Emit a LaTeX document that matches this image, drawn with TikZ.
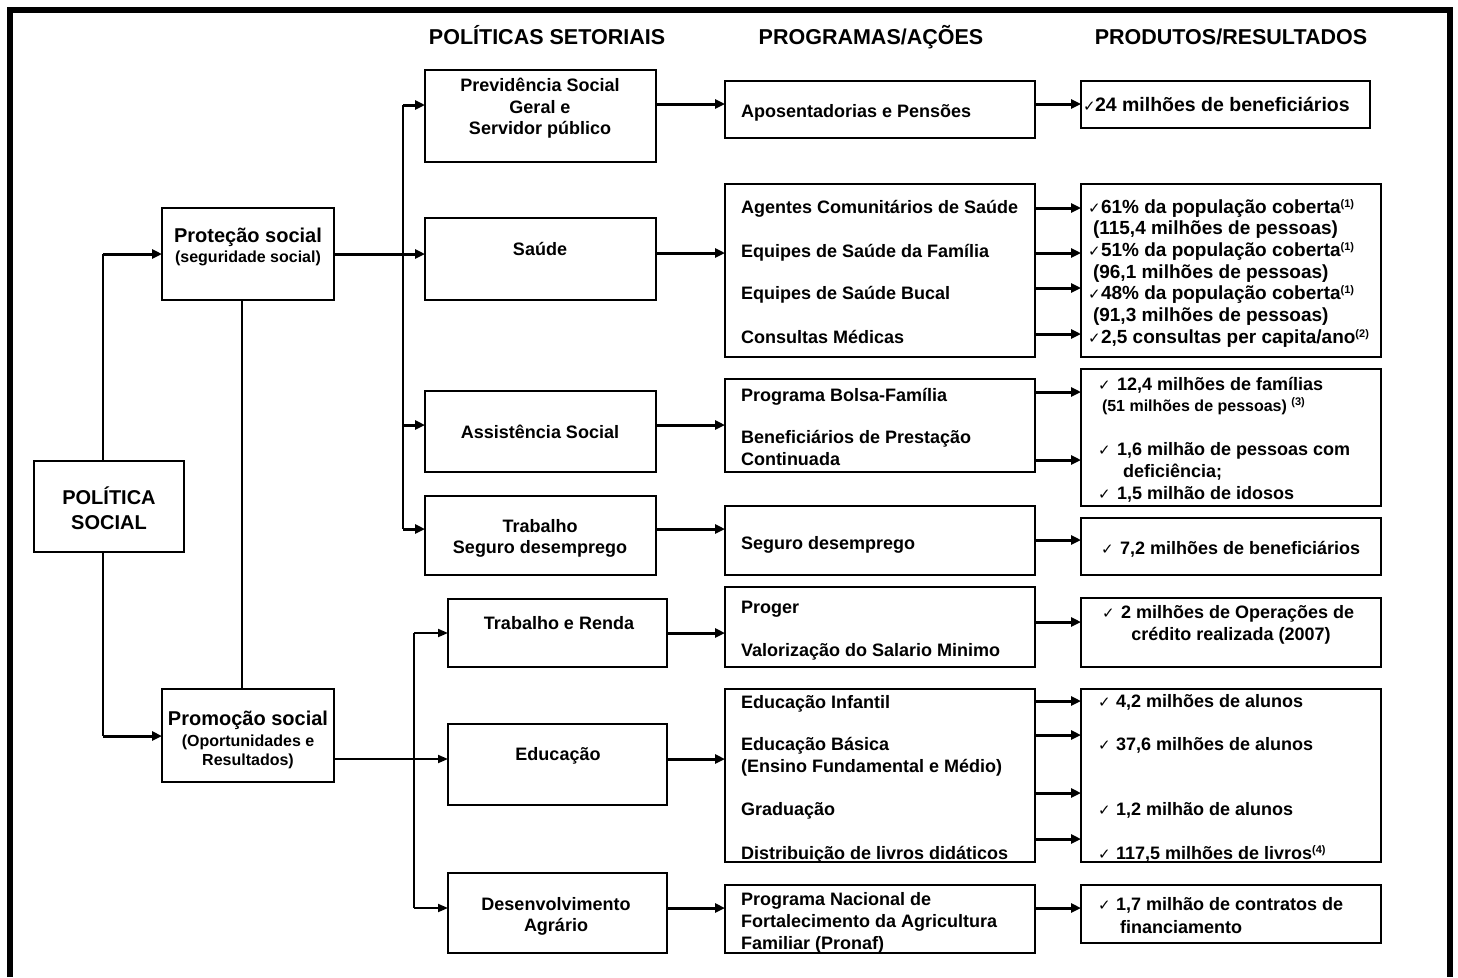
\documentclass[tikz,border=0pt]{standalone}
\usepackage{fontspec}
\setmainfont{Liberation Sans}
\newfontfamily\chkfont{DejaVu Sans}
\usetikzlibrary{arrows.meta,calc}
\newcommand\ck[1][12]{\makebox[#1pt][l]{\chkfont\mdseries\fontsize{15}{15}\selectfont ✓}}
\newcommand\supr[1]{\raisebox{6pt}{\fontsize{11}{11}\selectfont #1}}
\newcommand\bx[5]{\node[box, minimum width={#4-#2}, minimum height={#5-#3}] (#1) at ({(#2+#4)/2},{(#3+#5)/2}) {};}
\newcommand\harr[4][arr]{\coordinate (tmp) at (0,#4); \draw[#1] (#2.east |- tmp) -- (#3.west |- tmp);}
\tikzset{
  box/.style={draw, line width=1.8pt, inner sep=0pt, outer sep=0pt},
  arr/.style={line width=3pt, -{Triangle[length=10pt,width=9pt]}},
  arrt/.style={line width=1.8pt, -{Triangle[length=10pt,width=8pt]}},
  thinl/.style={line width=1.8pt},
  frame/.style={line width=6pt},
  base/.style={inner sep=0pt, outer sep=0pt, text=black},
  t18/.style={base, font=\bfseries\fontsize{18}{18}\selectfont, anchor=base west, yshift=-6.5pt},
  c18/.style={t18, anchor=base},
  t19/.style={base, font=\bfseries\fontsize{19}{19}\selectfont, anchor=base west, yshift=-6.8pt},
  t195/.style={base, font=\bfseries\fontsize{19.5}{19.5}\selectfont, anchor=base west, yshift=-7pt},
  t16/.style={base, font=\bfseries\fontsize{16}{16}\selectfont, anchor=base west, yshift=-5.7pt},
  c16/.style={t16, anchor=base},
  c20/.style={base, font=\bfseries\fontsize{20}{20}\selectfont, anchor=base, yshift=-7.2pt},
  hd/.style={base, font=\bfseries\fontsize{21.5}{21.5}\selectfont, anchor=base, yshift=-7.7pt},
}
\begin{document}
\begin{tikzpicture}[x=1pt,y=-1pt]
\useasboundingbox (0,0) rectangle (1458,977);
\draw[frame] (9.5,977) -- (9.5,9.5) -- (1450,9.5) -- (1450,977);

% headers
\node[hd] (h1) at (547,37) {POLÍTICAS SETORIAIS};
\node[hd] (h2) at (871,37) {PROGRAMAS/AÇÕES};
\node[hd] (h3) at (1231,37) {PRODUTOS/RESULTADOS};

% boxes
\bx{pol}{34}{461}{184}{552}
\bx{prot}{162}{208}{334}{300}
\bx{promo}{162}{689}{334}{782}
\bx{prev}{425}{70}{656}{162}
\bx{sau}{425}{218}{656}{300}
\bx{ass}{425}{391}{656}{472}
\bx{trab}{425}{496}{656}{575}
\bx{tr}{448}{599}{667}{667}
\bx{edu}{448}{724}{667}{805}
\bx{dev}{448}{873}{667}{953}
\bx{apo}{725}{81}{1035}{138}
\bx{psau}{725}{184}{1035}{357}
\bx{pass}{725}{379}{1035}{472}
\bx{pseg}{725}{506}{1035}{575}
\bx{ppro}{725}{587}{1035}{667}
\bx{pedu}{725}{689}{1035}{862}
\bx{pnaf}{725}{885}{1035}{953}
\bx{r1}{1081}{81}{1370}{128}
\bx{r2}{1081}{184}{1381}{357}
\bx{r3}{1081}{369}{1381}{506}
\bx{r4}{1081}{518}{1381}{575}
\bx{r5}{1081}{598}{1381}{667}
\bx{r6}{1081}{689}{1381}{862}
\bx{r7}{1081}{885}{1381}{943}

% column 1 connectors
\coordinate (b1t) at (103,254);
\coordinate (b1b) at (103,736);
\coordinate (vx) at (242,0);
\draw[thinl] (pol.north -| b1t) -- (b1t);
\draw[arr] (b1t) -- (b1t -| prot.west);
\draw[thinl] (pol.south -| b1b) -- (b1b);
\draw[arr] (b1b) -- (b1b -| promo.west);
\draw[thinl] (prot.south -| vx) -- (promo.north -| vx);

% bus 2
\coordinate (b2t) at (403,105);
\coordinate (b2a) at (403,425);
\coordinate (b2b) at (403,529);
\draw[thinl] (b2t) -- (b2b);
\draw[arr] (b2t) -- (b2t -| prev.west);
\draw[arr] (prot.east) -- (prot.east -| sau.west);
\draw[arr] (b2a) -- (b2a -| ass.west);
\draw[arr] (b2b) -- (b2b -| trab.west);

% bus 3
\coordinate (b3t) at (414,633);
\coordinate (b3b) at (414,908);
\coordinate (pe) at (334,759);
\draw[thinl] (b3t) -- (b3b);
\draw[arrt] (b3t) -- (b3t -| tr.west);
\draw[arrt] (b3b) -- (b3b -| dev.west);
\draw[arrt] (pe) -- (pe -| edu.west);

% col2 -> col3
\harr{prev}{apo}{104}
\harr{sau}{psau}{253}
\harr{ass}{pass}{425}
\harr{trab}{pseg}{529}
\harr{tr}{ppro}{633}
\harr{edu}{pedu}{759}
\harr{dev}{pnaf}{908}
% col3 -> col4
\harr{apo}{r1}{104}
\harr{psau}{r2}{208}
\harr{psau}{r2}{253}
\harr{psau}{r2}{288}
\harr{psau}{r2}{334}
\harr{pass}{r3}{392}
\harr{pass}{r3}{460}
\harr{pseg}{r4}{540}
\harr{ppro}{r5}{622}
\harr{pedu}{r6}{701}
\harr{pedu}{r6}{735}
\harr{pedu}{r6}{793}
\harr{pedu}{r6}{839}
\harr{pnaf}{r7}{908}

% column 1 texts
\node[c20] (tpol1) at (109,497) {POLÍTICA};
\node[c20] (tpol2) at (109,522) {SOCIAL};
\node[c20] (tprot1) at (248,235) {Proteção social};
\node[c16] (tprot2) at (248,257) {(seguridade social)};
\node[c20] (tpro1) at (248,718) {Promoção social};
\node[c16] (tpro2) at (248,741) {(Oportunidades e};
\node[c16] (tpro3) at (248,760) {Resultados)};

% column 2 texts
\node[c18] (tprev1) at (540,85) {Previdência Social};
\node[c18] (tprev2) at (540,107) {Geral e};
\node[c18] (tprev3) at (540,128) {Servidor público};
\node[c18] (tsau) at (540,249) {Saúde};
\node[c18] (tass) at (540,432) {Assistência Social};
\node[c18] (ttrab1) at (540,526) {Trabalho};
\node[c18] (ttrab2) at (540,547) {Seguro desemprego};
\node[c18] (ttr) at (559,623) {Trabalho e Renda};
\node[c18] (tedu) at (558,754) {Educação};
\node[c18] (tdev1) at (556,904) {Desenvolvimento};
\node[c18] (tdev2) at (556,925) {Agrário};

% column 3 texts
\node[t18] (p1) at (741,111) {Aposentadorias e Pensões};
\node[t18] (p2) at (741,207) {Agentes Comunitários de Saúde};
\node[t18] (p3) at (741,251) {Equipes de Saúde da Família};
\node[t18] (p4) at (741,293) {Equipes de Saúde Bucal};
\node[t18] (p5) at (741,337) {Consultas Médicas};
\node[t18] (p6) at (741,395) {Programa Bolsa-Família};
\node[t18] (p7) at (741,437) {Beneficiários de Prestação};
\node[t18] (p8) at (741,459) {Continuada};
\node[t18] (p9) at (741,543) {Seguro desemprego};
\node[t18] (p10) at (741,607) {Proger};
\node[t18] (p11) at (741,650) {Valorização do Salario Minimo};
\node[t18] (p12) at (741,702) {Educação Infantil};
\node[t18] (p13) at (741,744) {Educação Básica};
\node[t18] (p14) at (741,766) {(Ensino Fundamental e Médio)};
\node[t18] (p15) at (741,809) {Graduação};
\node[t18] (p16) at (741,853) {Distribuição de livros didáticos};
\node[t18] (p17) at (741,899) {Programa Nacional de};
\node[t18] (p18) at (741,921) {Fortalecimento da Agricultura};
\node[t18] (p19) at (741,943) {Familiar (Pronaf)};

% column 4 texts
\node[t195] (q1) at (1083,104) {\ck[12]24 milhões de beneficiários};
\node[t19] (q2) at (1088,207) {\ck[13]61\% da população coberta\supr{(1)}};
\node[t19] (q3) at (1093,228) {(115,4 milhões de pessoas)};
\node[t19] (q4) at (1088,250) {\ck[13]51\% da população coberta\supr{(1)}};
\node[t19] (q5) at (1093,272) {(96,1 milhões de pessoas)};
\node[t19] (q6) at (1088,293) {\ck[13]48\% da população coberta\supr{(1)}};
\node[t19] (q7) at (1093,315) {(91,3 milhões de pessoas)};
\node[t19] (q8) at (1088,337) {\ck[13]2,5 consultas per capita/ano\supr{(2)}};
\node[t18] (q9) at (1098,384) {\ck[19]12,4 milhões de famílias};
\node[t16] (q10) at (1102,406) {(51 milhões de pessoas) \supr{(3)}};
\node[t18] (q11) at (1098,449) {\ck[19]1,6 milhão de pessoas com};
\node[t18] (q12) at (1123,471) {deficiência;};
\node[t18] (q13) at (1098,493) {\ck[19]1,5 milhão de idosos};
\node[t18] (q14) at (1101,548) {\ck[19]7,2 milhões de beneficiários};
\node[t18] (q15) at (1102,612) {\ck[19]2 milhões de Operações de};
\node[c18] (q16) at (1231,634) {crédito realizada (2007)};
\node[t18] (q17) at (1098,701) {\ck[18]4,2 milhões de alunos};
\node[t18] (q18) at (1098,744) {\ck[18]37,6 milhões de alunos};
\node[t18] (q19) at (1098,809) {\ck[18]1,2 milhão de alunos};
\node[t18] (q20) at (1098,853) {\ck[18]117,5 milhões de livros\supr{(4)}};
\node[t18] (q21) at (1098,904) {\ck[18]1,7 milhão de contratos de};
\node[t18] (q22) at (1120,927) {financiamento};
\end{tikzpicture}
\end{document}
